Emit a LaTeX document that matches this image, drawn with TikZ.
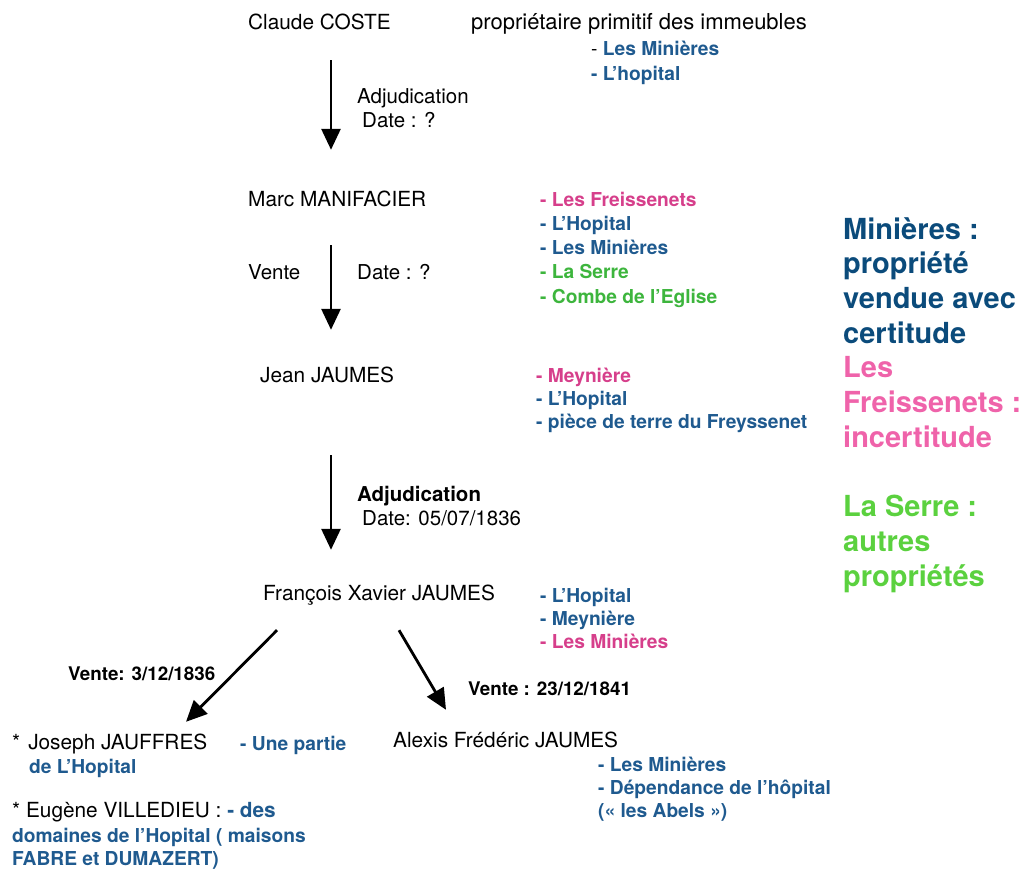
\documentclass[tikz,border=0pt]{standalone}
\usepackage{fontspec}
\setmainfont{TeX Gyre Heros}
\usetikzlibrary{positioning}
\usetikzlibrary{calc}
\usetikzlibrary{arrows.meta}

\definecolor{lieubleu}{HTML}{1F5A8F}
\definecolor{lieurose}{HTML}{D63F8B}
\definecolor{lieuvert}{HTML}{3DB53D}
\definecolor{legbleu}{HTML}{0B4B7B}
\definecolor{legrose}{HTML}{EF63AA}
\definecolor{legvert}{HTML}{5BD13F}

\begin{document}
\begin{tikzpicture}[x=1pt,y=-1pt,
  personne/.style={anchor=base west,inner sep=0pt,text height=15pt,text depth=5pt,font=\fontsize{20.8}{24}\selectfont},
  lieux/.style={anchor=base west,inner sep=0pt,align=left,font=\fontsize{19.2}{24.25}\selectfont\bfseries},
  lieuxserre/.style={lieux,font=\fontsize{19.2}{23}\selectfont\bfseries},
  acte/.style={anchor=base west,inner sep=0pt,align=left,font=\fontsize{20.5}{24}\selectfont},
  vente/.style={anchor=base west,inner sep=0pt,font=\fontsize{18.8}{24}\selectfont\bfseries},
  legende/.style={anchor=base west,inner sep=0pt,align=left,font=\fontsize{29}{34.7}\selectfont\bfseries},
  transfert/.style={-{Triangle[length=21pt,width=19pt]},line width=2.8pt}]
\useasboundingbox (0,0) rectangle (1025,870);

% proprietaires
\node[personne](coste) at (248,29){Claude COSTE};
\node[personne](manif) at (248,206){Marc MANIFACIER};
\node[personne](jean) at (260,382){Jean JAUMES};
\node[personne](fxj) at (263,600){François Xavier JAUMES};
\node[personne](joseph) at (12,749){*\hspace{8pt}Joseph JAUFFRES};
\node[personne](alexis) at (393,747){Alexis Frédéric JAUMES};
\node[personne](eugene) at (12,817){* Eugène VILLEDIEU : \textcolor{lieubleu}{\bfseries - des}};

% biens (ancre = derniere ligne)
\node[acte,font=\fontsize{22}{24}\selectfont](primitif) at (471,29){propriétaire primitif des immeubles};
\node[lieux](biensA) at (591,80){{\mdseries -} \textcolor{lieubleu}{Les Minières}\\
  \textcolor{lieubleu}{- L’hopital}};
\node[lieux](biensB) at (540,303){\textcolor{lieurose}{- Les Freissenets}\\
  \textcolor{lieubleu}{- L’Hopital}\\
  \textcolor{lieubleu}{- Les Minières}\\
  \textcolor{lieuvert}{- La Serre}\\
  \textcolor{lieuvert}{- Combe de l’Eglise}};
\node[lieuxserre](biensC) at (536,428){\textcolor{lieurose}{- Meynière}\\
  \textcolor{lieubleu}{- L’Hopital}\\
  \textcolor{lieubleu}{- pièce de terre du Freyssenet}};
\node[lieuxserre](biensD) at (540,648){\textcolor{lieubleu}{- L’Hopital}\\
  \textcolor{lieubleu}{- Meynière}\\
  \textcolor{lieurose}{- Les Minières}};
\node[lieux,text=lieubleu](partie) at (240,750){- Une partie};
\node[lieux,text=lieubleu](partieB) at (29,773){de L’Hopital};
\node[lieuxserre,text=lieubleu](domaines) at (12,865){domaines de l’Hopital ( maisons\\FABRE et DUMAZERT)};
\node[lieuxserre,text=lieubleu](biensE) at (598,817){- Les Minières\\- Dépendance de l’hôpital\\(« les Abels »)};

% actes
\node[acte](actA) at (357,127){Adjudication\\\hspace*{5pt}Date : ?};
\node[acte](venteB) at (248,279){Vente};
\node[acte](dateB) at (357,279){Date : ?};
\node[acte](actC) at (357,525){\textbf{Adjudication}\\\hspace*{5pt}Date: 05/07/1836};
\node[vente](venteD) at (68,680){Vente: 3/12/1836};
\node[vente](venteE) at (468,695){Vente : 23/12/1841};

% legende
\node[legende](leg) at (843,586){\textcolor{legbleu}{Minières :}\\
  \textcolor{legbleu}{propriété}\\
  \textcolor{legbleu}{vendue avec}\\
  \textcolor{legbleu}{certitude}\\
  \textcolor{legrose}{Les}\\
  \textcolor{legrose}{Freissenets :}\\
  \textcolor{legrose}{incertitude}\\
  ~\\
  \textcolor{legvert}{La Serre :}\\
  \textcolor{legvert}{autres}\\
  \textcolor{legvert}{propriétés}};

\path
([xshift=83pt,yshift=-26pt]coste.south west) edge[transfert] ([xshift=83pt,yshift=41pt]manif.north west)
([xshift=83pt,yshift=-34pt]manif.south west) edge[transfert] ([xshift=71pt,yshift=37pt]jean.north west)
([xshift=71pt,yshift=-68pt]jean.south west) edge[transfert] ([xshift=68pt,yshift=35pt]fxj.north west)
([xshift=14pt,yshift=-25pt]fxj.south west) edge[transfert] ([xshift=174pt,yshift=12pt]joseph.north west)
([xshift=136pt,yshift=-25pt]fxj.south west) edge[transfert] ([xshift=53pt,yshift=22pt]alexis.north west);
\end{tikzpicture}
\end{document}
